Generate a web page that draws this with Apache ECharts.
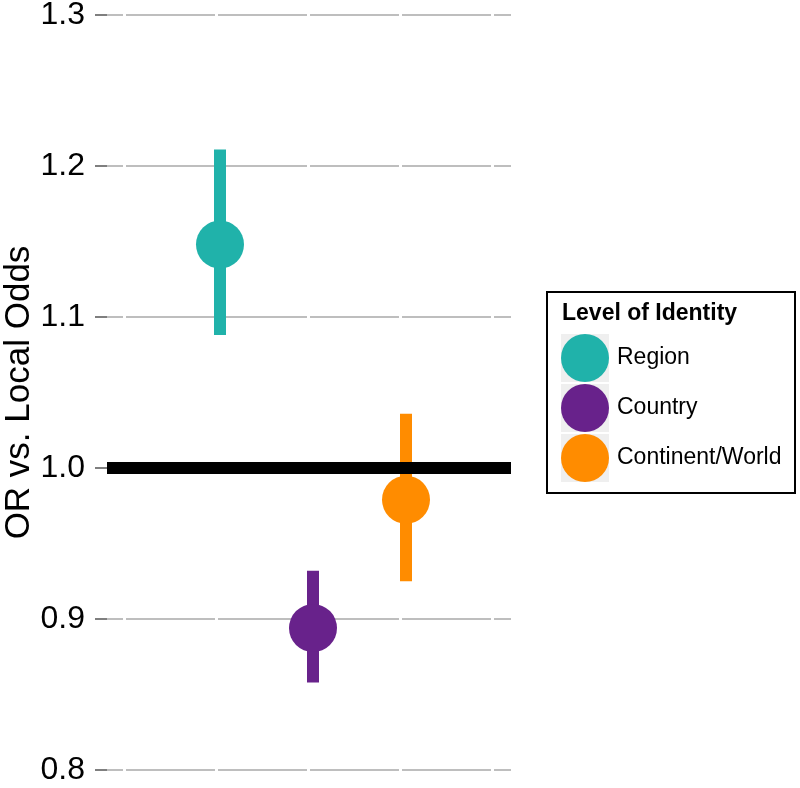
<!DOCTYPE html>
<html>
<head>
<meta charset="utf-8">
<script src="https://cdn.jsdelivr.net/npm/echarts@6/dist/echarts.min.js"></script>
<style>html,body{margin:0;padding:0;background:#fff;}#chart{width:800px;height:788px;}</style>
</head>
<body>
<div id="chart"></div>
<script>
// ---- data ----
const levels = ['Region', 'Country', 'Continent/World'];
const estimates = [1.148, 0.894, 0.979];
const lowerCI = [1.088, 0.858, 0.925];
const upperCI = [1.211, 0.932, 1.036];
const colors = ['#20B2AA', '#68228B', '#FF8C00'];
const yTicks = [0.8, 0.9, 1.0, 1.1, 1.2, 1.3];
const refValue = 1.0;

const FONT = '"Liberation Sans", Arial, sans-serif';
const chart = echarts.init(document.getElementById('chart'), null, {renderer: 'canvas'});

const errData = levels.map((l, i) => [i, lowerCI[i], upperCI[i]]);

const series = [
  {
    type: 'custom',
    name: 'ci',
    z: 2,
    silent: true,
    data: errData,
    encode: {x: 0, y: [1, 2]},
    renderItem: function (params, api) {
      const i = api.value(0);
      const p1 = api.coord([i, api.value(1)]);
      const p2 = api.coord([i, api.value(2)]);
      return {
        type: 'line',
        shape: {x1: p1[0], y1: p1[1], x2: p2[0], y2: p2[1]},
        style: {stroke: colors[i], lineWidth: 12, lineCap: 'butt'}
      };
    }
  },
  {
    type: 'line',
    name: 'ref',
    z: 3,
    data: [],
    silent: true,
    markLine: {
      silent: true,
      symbol: ['none', 'none'],
      label: {show: false},
      lineStyle: {color: '#000', width: 12, type: 'solid'},
      emphasis: {disabled: true},
      data: [{yAxis: refValue}]
    }
  }
];
levels.forEach((l, i) => {
  series.push({
    type: 'scatter',
    name: l,
    z: 5,
    symbol: 'circle',
    symbolSize: 48,
    itemStyle: {color: colors[i], opacity: 1},
    data: [[i, estimates[i]]]
  });
});

chart.setOption({
  animation: false,
  backgroundColor: '#fff',
  grid: {left: 107, right: 289, top: 15, bottom: 18, containLabel: false, outerBoundsMode: 'none'},
  xAxis: {
    type: 'value', min: -1.215, max: 3.129, show: false,
    splitLine: {show: false}
  },
  yAxis: {
    type: 'value', min: 0.8, max: 1.3, interval: 0.1,
    name: 'OR vs. Local Odds',
    nameLocation: 'middle',
    nameRotate: 90,
    nameGap: 70,
    nameMoveOverlap: false,
    nameTextStyle: {fontSize: 35, color: '#000', fontFamily: FONT},
    axisLine: {show: false, onZero: false},
    axisTick: {show: true, length: 12, lineStyle: {color: '#7f7f7f', width: 2}},
    axisLabel: {
      fontSize: 32, color: '#000', fontFamily: FONT, margin: 22,
      formatter: v => v.toFixed(1)
    },
    splitLine: {show: true, lineStyle: {color: '#bebebe', width: 2, type: [89, 3], dashOffset: 73}}
  },
  title: {
    text: 'Level of Identity',
    left: 562, top: 302, padding: 0,
    textStyle: {fontSize: 23, fontWeight: 'bold', color: '#000', fontFamily: FONT}
  },
  legend: {
    orient: 'vertical',
    left: 561, top: 334, padding: 0,
    itemWidth: 48, itemHeight: 48, itemGap: 2,
    icon: 'circle',
    data: levels,
    selectedMode: false,
    textStyle: {fontSize: 23, color: '#000', fontFamily: FONT, padding: [3, 0, 0, 3]}
  },
  graphic: [
    {type: 'rect', z: -1, shape: {x: 547, y: 292, width: 248, height: 201}, style: {fill: '#fff', stroke: '#000', lineWidth: 2}},
    {type: 'rect', z: 0, shape: {x: 561, y: 334, width: 48, height: 48}, style: {fill: '#efefef'}},
    {type: 'rect', z: 0, shape: {x: 561, y: 384, width: 48, height: 48}, style: {fill: '#efefef'}},
    {type: 'rect', z: 0, shape: {x: 561, y: 434, width: 48, height: 48}, style: {fill: '#efefef'}}
  ],
  series: series
});
</script>
</body>
</html>
